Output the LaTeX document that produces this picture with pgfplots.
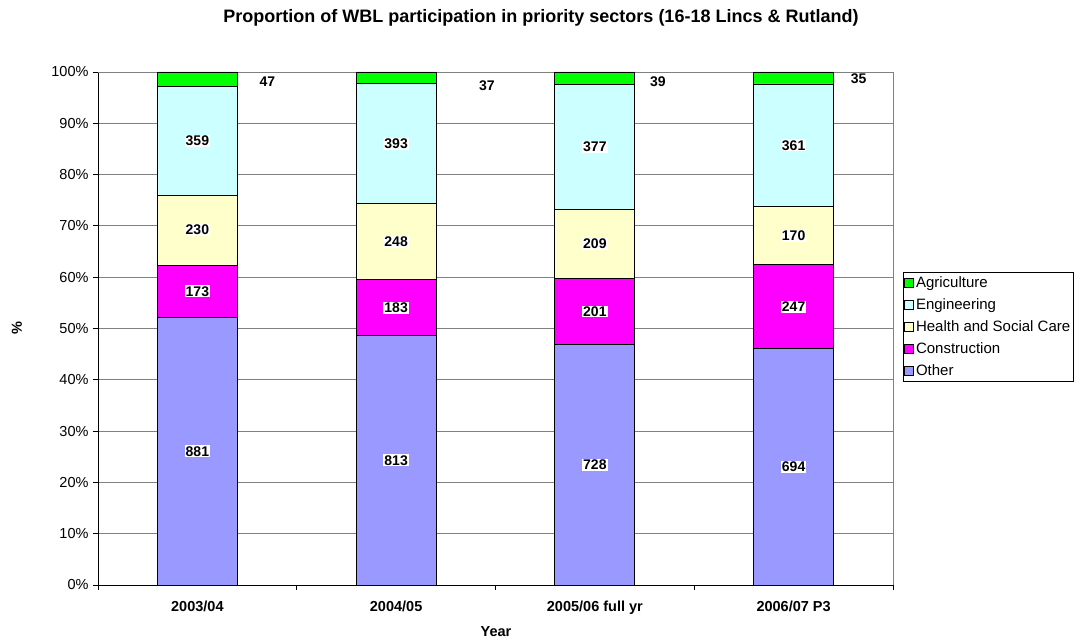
\documentclass[border=0pt]{standalone}
\usepackage{fontspec}
\setmainfont{Liberation Sans}
\usepackage{pgfplots}
\usepackage{pgfplotstable}
\pgfplotsset{compat=1.18}
\definecolor{cOther}{HTML}{9999FF}
\definecolor{cConstr}{HTML}{FF00FF}
\definecolor{cHealth}{HTML}{FFFFCC}
\definecolor{cEng}{HTML}{CCFFFF}
\definecolor{cAgri}{HTML}{00FF00}
\definecolor{gridg}{HTML}{808080}
\pgfplotstableread{
x other constr health eng agri
0 881 173 230 359 47
1 813 183 248 393 37
2 728 201 209 377 39
3 694 247 170 361 35
}\data
\pgfplotstablecreatecol[expr={\thisrow{other}+\thisrow{constr}+\thisrow{health}+\thisrow{eng}+\thisrow{agri}}]{total}\data
\begin{document}
\begin{tikzpicture}[x=1pt,y=1pt]
\useasboundingbox (0,0) rectangle (1080,644);
\pgfplotsset{
  base/.style={at={(98pt,59pt)}, anchor=south west, scale only axis,
    width=795pt, height=513pt, xmin=-0.5, xmax=3.5, ymin=0, ymax=100},
}
\begin{axis}[base,
  ybar stacked, bar width=80pt,
  axis lines*=left,
  axis line style={black, line width=0.8pt},
  ytick={0,10,...,100},
  yticklabel={\pgfmathprintnumber{\tick}\%},
  /pgf/number format/assume math mode=true,
  yticklabel style={font=\fontsize{14.5}{16}\selectfont, xshift=-1pt},
  xtick={0,1,2,3},
  xticklabels={2003/04,2004/05,2005/06 full yr,2006/07 P3},
  xticklabel style={font=\fontsize{14.5}{16}\selectfont\bfseries, yshift=-7pt},
  major x tick style={draw=none},
  minor xtick={-0.5,0.5,1.5,2.5,3.5},
  tick align=outside,
  major tick length=5pt, minor tick length=5pt,
  tick style={black, line width=0.8pt},
  ymajorgrids, grid style={gridg, line width=0.8pt},
  legend cell align=left,
  reverse legend,
  legend style={at={(1.0126,0.610)}, anchor=north west, draw=black, line width=0.8pt,
    font=\fontsize{15}{17}\selectfont, row sep=5.5pt, inner xsep=1pt, inner ysep=2.5pt,
    nodes={inner xsep=2pt}},
  legend image code/.code={\draw[#1, draw=black, line width=0.6pt] (0pt,-4.5pt) rectangle (9pt,4.5pt);},
  every axis plot/.append style={draw=black, line width=0.8pt},
  clip=false,
]
\addplot[fill=cOther] table[x=x, y expr=\thisrow{other}/\thisrow{total}*100] {\data};
\addplot[fill=cConstr] table[x=x, y expr=\thisrow{constr}/\thisrow{total}*100] {\data};
\addplot[fill=cHealth] table[x=x, y expr=\thisrow{health}/\thisrow{total}*100] {\data};
\addplot[fill=cEng] table[x=x, y expr=\thisrow{eng}/\thisrow{total}*100] {\data};
\addplot[fill=cAgri] table[x=x, y expr=\thisrow{agri}/\thisrow{total}*100] {\data};
\legend{Other,Construction,Health and Social Care,Engineering,Agriculture}
\draw[gridg, line width=0.8pt] (rel axis cs:0,1) -- (rel axis cs:1,1) -- (rel axis cs:1,0);
\end{axis}
\begin{axis}[base, hide axis, clip=false,
  /pgf/number format/assume math mode=true,
  nodes near coords={\pgfmathprintnumber[fixed,precision=0]{\pgfplotspointmeta}},
  every node near coord/.style={anchor=center, fill=white, text=black, inner sep=1pt,
     font=\fontsize{14}{16}\selectfont\bfseries},
  every axis plot/.append style={draw=none, mark=none},
]
\addplot+[point meta=\thisrow{other}] table[x=x, y expr=0.5*\thisrow{other}/\thisrow{total}*100] {\data};
\addplot+[point meta=\thisrow{constr}] table[x=x, y expr=(\thisrow{other}+0.5*\thisrow{constr})/\thisrow{total}*100] {\data};
\addplot+[point meta=\thisrow{health}] table[x=x, y expr=(\thisrow{other}+\thisrow{constr}+0.5*\thisrow{health})/\thisrow{total}*100] {\data};
\addplot+[point meta=\thisrow{eng}] table[x=x, y expr=(\thisrow{other}+\thisrow{constr}+\thisrow{health}+0.5*\thisrow{eng})/\thisrow{total}*100] {\data};
\addplot+[point meta=explicit] coordinates {(0.352,98.05) [47] (1.457,97.3) [37] (2.317,98.05) [39] (3.327,98.6) [35]};
\end{axis}
\node[font=\fontsize{18}{20}\selectfont\bfseries] at (541,626) {Proportion of WBL participation in priority sectors (16-18 Lincs \& Rutland)};
\node[font=\fontsize{14.5}{16}\selectfont\bfseries, rotate=90] at (17,316) {\%};
\node[font=\fontsize{14.5}{16}\selectfont\bfseries] at (496,12) {Year};
\end{tikzpicture}
\end{document}
